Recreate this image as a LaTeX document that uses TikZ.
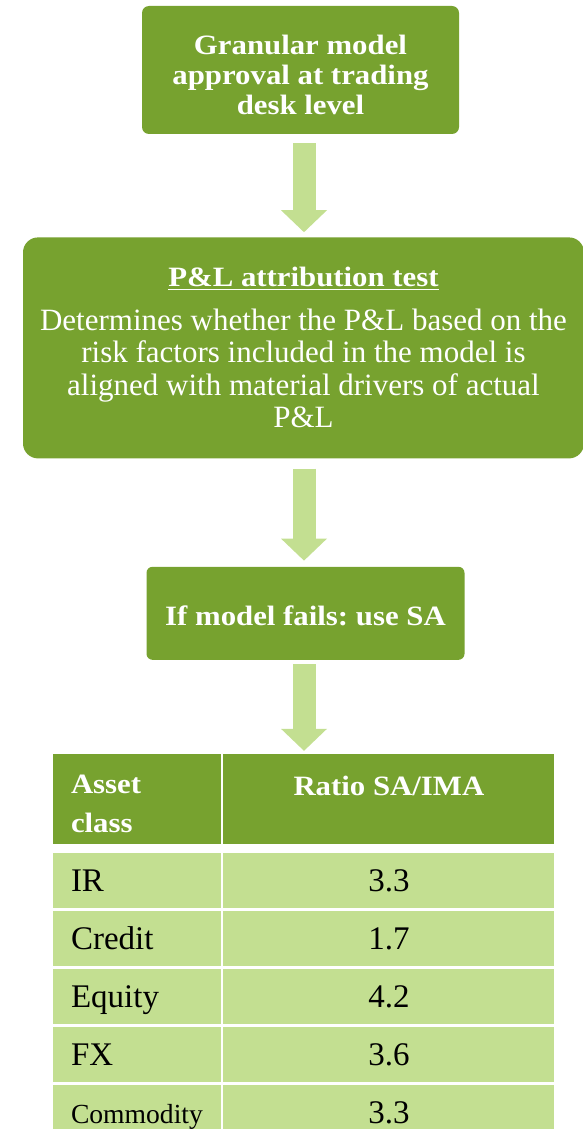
\documentclass[tikz,border=0pt]{standalone}
\usepackage{fontspec}
\setmainfont{Liberation Serif}[BoldFeatures={FakeStretch=1.1}]
\usetikzlibrary{positioning,calc,arrows.meta}
\definecolor{leafgreen}{HTML}{77A22F}
\definecolor{palegreen}{HTML}{C3DF91}
\frenchspacing

\begin{document}
\begin{tikzpicture}[x=1pt, y=-1pt, node distance=103pt]
\tikzstyle{greenbox} = [rectangle, fill=leafgreen, text=white, align=flush center, inner sep=0pt, font=\bfseries\fontsize{28}{30}\selectfont]
\tikzstyle{flowarrow} = [draw=palegreen, line width=23pt, -{Triangle[length=22pt, width=46pt, line width=0pt]}]
\tikzstyle{headcell} = [rectangle, fill=leafgreen, text=white, minimum height=90pt, inner sep=0pt, font=\bfseries\fontsize{28}{39}\selectfont]
\tikzstyle{rowcell} = [rectangle, fill=palegreen, minimum height=55pt, inner sep=0pt, text height=22pt, text depth=1pt, font=\fontsize{33}{36}\selectfont]

\useasboundingbox (0,0) rectangle (582,1129);
\coordinate (axis) at (304,0);

\node (approval) [greenbox, rounded corners=7pt, minimum width=317pt, minimum height=128pt, text width=300pt] at (300.5,70) {\rule{0pt}{30pt}Granular model\\approval at trading\\desk level};
\node (pltest) [greenbox, rounded corners=15pt, minimum width=561pt, minimum height=221pt, text width=556pt, below=of approval, xshift=3pt, font=\fontsize{31}{32.5}\selectfont] {{\bfseries\fontsize{28}{30}\selectfont\underline{P\&L attribution test}}\\[11pt]Determines whether the P\&L based on the\\risk factors included in the model is\\aligned with material drivers of actual\\P\&L};
\node (ifsa) [greenbox, rounded corners=6pt, minimum width=318pt, minimum height=93pt, text width=310pt, below=108pt of pltest, xshift=2pt] {\rule{0pt}{25pt}If model fails: use SA};

% table
\node (hdclass) [headcell, minimum width=168pt, text width=132pt, align=flush left] at (137,799) {\rule{0pt}{28pt}Asset\\class};
\node (hdratio) [headcell, minimum width=331pt, text width=331pt, align=flush center, text height=20pt, text depth=28pt, right=2pt of hdclass] {Ratio SA/IMA};
\foreach \cls/\val [count=\i] in {IR/3.3, Credit/1.7, Equity/4.2, FX/3.6, {\fontsize{27.6}{30}\selectfont Commodity}/3.3} {
  \node (cls\i) [rowcell, minimum width=168pt, text width=132pt, align=flush left] at (137,822.5+58*\i) {\cls};
  \node (val\i) [rowcell, minimum width=331pt, text width=331pt, align=flush center, right=2pt of cls\i] {\val};
}

\draw[flowarrow] ($(approval.south -| axis)+(0,9)$) -- ($(pltest.north -| axis)+(0,-5)$);
\draw[flowarrow] ($(pltest.south -| axis)+(0,10)$) -- ($(ifsa.north -| axis)+(0,-6)$);
\draw[flowarrow] ($(ifsa.south -| axis)+(0,4)$) -- ($(hdratio.north -| axis)+(0,-3)$);
\end{tikzpicture}
\end{document}
